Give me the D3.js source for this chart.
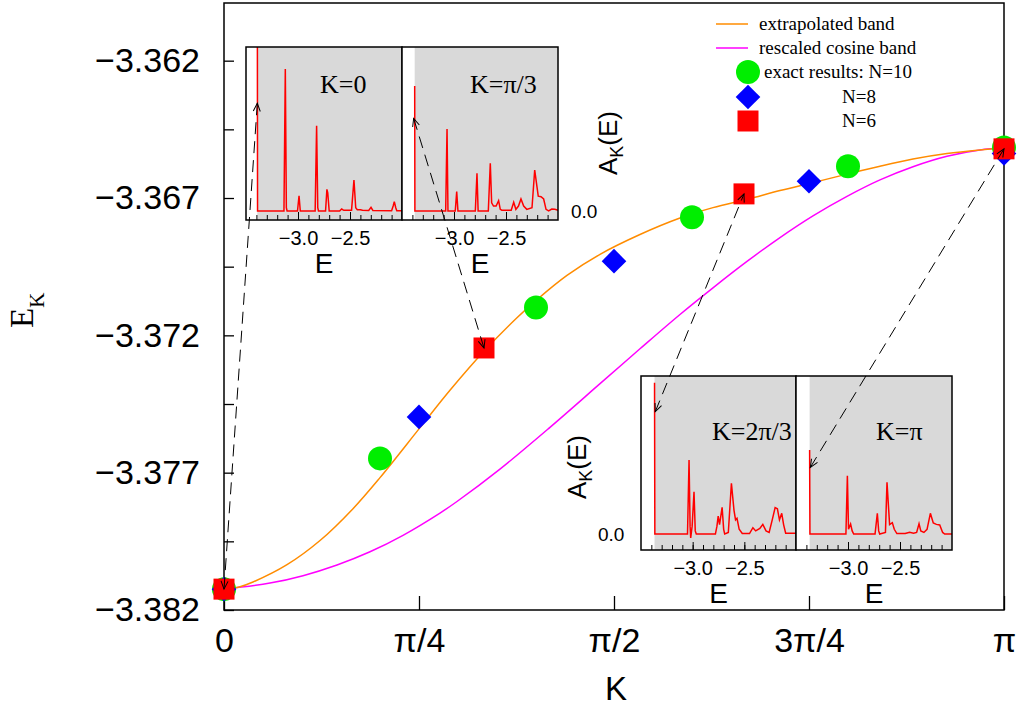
<!DOCTYPE html>
<html>
<head>
<meta charset="utf-8">
<script src="https://cdn.jsdelivr.net/npm/d3@7"></script>
<style>
body { margin: 0; background: #fff; }
text { font-family: "Liberation Sans", Arial, sans-serif; fill: #000; }
.serif { font-family: "Liberation Serif", "Times New Roman", serif; }
</style>
</head>
<body>
<div id="chart"></div>
<script>
var w = 1019, h = 706;

// K is in units of pi
var kTicks = [0, 0.25, 0.5, 0.75, 1];
var kTickLabels = ["0", "π/4", "π/2", "3π/4", "π"];
var eTicks = [-3.382, -3.377, -3.372, -3.367, -3.362];
var eMinorTicks = [-3.3795, -3.3745, -3.3695, -3.3645];

// extrapolated band
var extrapK = [0, 0.0205, 0.0372, 0.0808, 0.1231, 0.1654, 0.2, 0.2513, 0.2897, 0.3333, 0.3756, 0.4013,
    0.4397, 0.4821, 0.5333, 0.5846, 0.6269, 0.6705, 0.7128, 0.7551, 0.7987, 0.841, 0.8833, 0.9269, 0.9692, 1];
var extrapE = [-3.38124, -3.38115, -3.38098, -3.38035, -3.37947, -3.37831, -3.37718, -3.37536, -3.374,
    -3.37258, -3.37136, -3.3707, -3.36982, -3.36905, -3.36833, -3.36773, -3.36735, -3.36705, -3.36673,
    -3.36644, -3.36613, -3.36584, -3.36558, -3.36538, -3.36525, -3.36518];

// rescaled cosine band
var cosK = [0, 0.059, 0.1013, 0.1449, 0.1872, 0.2295, 0.2769, 0.2987, 0.3538, 0.4179, 0.4821, 0.5333,
    0.5846, 0.6269, 0.6705, 0.7128, 0.7551, 0.7987, 0.841, 0.8833, 0.9269, 0.9692, 1];
var cosE = [-3.38124, -3.38102, -3.38075, -3.38036, -3.37988, -3.37928, -3.37847, -3.37805, -3.37687,
    -3.37535, -3.37376, -3.37249, -3.37124, -3.37027, -3.36931, -3.36844, -3.36765, -3.36694,
    -3.36634, -3.36586, -3.36548, -3.36525, -3.36518];

// exact results
var n10K = [0, 0.2, 0.4, 0.6, 0.8, 1];
var n10E = [-3.38124, -3.37648, -3.37099, -3.3677, -3.36584, -3.36516];
var n8K = [0, 0.25, 0.5, 0.75, 1];
var n8E = [-3.38124, -3.37497, -3.3693, -3.36639, -3.36538];
var n6K = [0, 1 / 3, 2 / 3, 1];
var n6E = [-3.38124, -3.37246, -3.36685, -3.36521];

// spectral functions A_K(E), [E, A]
var specK0 = [[-3.391, 1.3], [-3.389, 0], [-3.135, 0], [-3.122, 0.866], [-3.112, 0.02], [-3.105, 0],
    [-3.005, 0], [-2.99, 0.093], [-2.978, 0], [-2.835, 0], [-2.821, 0.52], [-2.81, 0.02], [-2.803, 0],
    [-2.735, 0], [-2.722, 0.132], [-2.714, 0.11], [-2.7, 0], [-2.6, 0], [-2.58, 0.012], [-2.56, 0.004],
    [-2.485, 0.005], [-2.462, 0.189], [-2.445, 0.02], [-2.43, 0.008], [-2.4, 0.008], [-2.38, 0.004],
    [-2.32, 0.003], [-2.298, 0.022], [-2.28, 0.003], [-2.1, 0.002], [-2.085, 0.03], [-2.074, 0.057],
    [-2.06, 0.02], [-2.05, 0.002], [-2.0, 0.002]];
var specK1 = [[-3.378, 0.762], [-3.376, 0], [-3.08, 0], [-3.067, 0.5], [-3.058, 0], [-2.988, 0],
    [-2.974, 0.118], [-2.962, 0], [-2.795, 0], [-2.779, 0.23], [-2.768, 0], [-2.67, 0], [-2.651, 0.291],
    [-2.638, 0.05], [-2.62, 0.03], [-2.595, 0.03], [-2.571, 0.063], [-2.555, 0.01], [-2.54, 0.005],
    [-2.45, 0.005], [-2.426, 0.053], [-2.405, 0.01], [-2.38, 0.03], [-2.356, 0.073], [-2.33, 0.03],
    [-2.3, 0.01], [-2.25, 0.02], [-2.224, 0.25], [-2.19, 0.09], [-2.163, 0.087], [-2.138, 0.073],
    [-2.115, 0.01], [-2.09, 0], [-2.06, 0.012], [-2.03, 0.01], [-2.0, 0.005]];
var specK2 = [[-3.369, 0.958], [-3.366, 0], [-3.05, 0], [-3.035, 0.468], [-3.025, 0.05], [-3.019, -0.025],
    [-3.005, 0.05], [-2.987, 0.268], [-2.975, 0.02], [-2.965, 0], [-2.78, 0], [-2.765, 0.05],
    [-2.753, 0.114], [-2.74, 0.06], [-2.715, 0.169], [-2.7, 0.03], [-2.69, 0], [-2.655, 0.01],
    [-2.625, 0.321], [-2.6, 0.15], [-2.585, 0.09], [-2.571, 0.1], [-2.55, 0.03], [-2.52, 0.003],
    [-2.45, 0.003], [-2.417, 0.04], [-2.39, 0.02], [-2.35, 0.035], [-2.321, 0.061], [-2.29, 0.02],
    [-2.26, 0.01], [-2.23, 0.09], [-2.202, 0.167], [-2.18, 0.16], [-2.16, 0.09], [-2.138, 0.131],
    [-2.12, 0.06], [-2.1, 0.005], [-2.0, 0.005]];
var specK3 = [[-3.369, 0.532], [-3.366, 0], [-3.02, 0], [-3.006, 0.369], [-2.995, 0.03], [-2.975, 0.063],
    [-2.96, 0.02], [-2.945, 0], [-2.74, 0], [-2.718, 0.131], [-2.705, 0.02], [-2.695, 0], [-2.64, 0.01],
    [-2.625, 0.327], [-2.6, 0.06], [-2.574, 0.072], [-2.555, 0.03], [-2.53, 0.003], [-2.45, 0.003],
    [-2.407, 0.011], [-2.37, 0.005], [-2.34, 0.01], [-2.317, 0.065], [-2.3, 0.02], [-2.27, 0.01],
    [-2.24, 0.03], [-2.208, 0.131], [-2.18, 0.07], [-2.15, 0.061], [-2.118, 0.057], [-2.09, 0.01],
    [-2.07, 0], [-2.0, 0]];
var insetLabels = ["K=0", "K=π/3", "K=2π/3", "K=π"];
var eInsetTicks = [-3.4, -3.3, -3.2, -3.1, -3.0, -2.9, -2.8, -2.7, -2.6, -2.5, -2.4, -2.3, -2.2, -2.1];
var eInsetMajor = [-3.0, -2.5];

var svg = d3.select("#chart").append("svg")
    .attr("width", w)
    .attr("height", h)

var x = d3.scaleLinear().domain([0, 1]).range([224, 1004]);
var y = d3.scaleLinear().domain([-3.382, -3.3599]).range([610, 3]);

var defs = svg.append("defs");
defs.append("marker")
    .attr("id", "head")
    .attr("viewBox", "-10 -5 12 10")
    .attr("refX", 0).attr("refY", 0)
    .attr("markerWidth", 12).attr("markerHeight", 10)
    .attr("markerUnits", "userSpaceOnUse")
    .attr("orient", "auto-start-reverse")
  .append("path")
    .attr("d", "M-8,-3.5L0,0L-8,3.5")
    .attr("fill", "none")
    .attr("stroke", "#000")
    .attr("stroke-width", 1);

// axes
var yAxis = svg.append("g")
    .attr("transform", "translate(224,0)")
    .call(d3.axisLeft(y).tickValues(eTicks).tickSize(-10).tickPadding(24).tickFormat(d3.format(".3f")));
yAxis.selectAll("text").style("font-size", "34px");
svg.append("g")
    .attr("transform", "translate(224,0)")
    .call(d3.axisLeft(y).tickValues(eMinorTicks).tickSize(-10).tickFormat(""));

var xAxis = svg.append("g")
    .attr("transform", "translate(0,610)")
    .call(d3.axisBottom(x).tickValues(kTicks).tickSize(-14).tickPadding(18)
        .tickFormat(function(d, i){ return kTickLabels[i]; }));
xAxis.selectAll("text").style("font-size", "34px");

svg.selectAll(".domain").remove();
svg.selectAll(".tick line").attr("stroke", "#000").attr("stroke-width", 1.3);

svg.append("rect")
    .attr("x", 224).attr("y", 3)
    .attr("width", 780).attr("height", 607)
    .attr("fill", "none")
    .attr("stroke", "#000")
    .attr("stroke-width", 1.5);

svg.append("text")
    .attr("x", 616).attr("y", 700)
    .attr("text-anchor", "middle")
    .style("font-size", "33px")
    .text("K");

var ek = svg.append("text")
    .attr("class", "serif")
    .attr("transform", "translate(33,328) rotate(-90)")
    .style("font-size", "33px");
ek.append("tspan").text("E");
ek.append("tspan").attr("dy", 11).style("font-size", "21px").text("K");

// bands
var line = d3.line()
    .x(function(d){ return x(d[0]); })
    .y(function(d){ return y(d[1]); })
    .curve(d3.curveCatmullRom.alpha(0.5));

svg.append("path")
    .datum(cosK.map(function(k, i){ return [k, cosE[i]]; }))
    .attr("d", line)
    .attr("fill", "none")
    .attr("stroke", "#ff00ff")
    .attr("stroke-width", 1.5);

svg.append("path")
    .datum(extrapK.map(function(k, i){ return [k, extrapE[i]]; }))
    .attr("d", line)
    .attr("fill", "none")
    .attr("stroke", "#ff8c00")
    .attr("stroke-width", 1.5);

// markers
var green = "#00ee00", blue = "#0000ff", red = "#ff0000";
var circleSym = d3.symbol(d3.symbolCircle, Math.PI * 12 * 12);
var diamondSym = d3.symbol(d3.symbolSquare, 303);
var squareSym = d3.symbol(d3.symbolSquare, 441);

svg.selectAll(".n10").data(n10K).enter().append("path")
    .attr("class", "n10")
    .attr("d", circleSym)
    .attr("transform", function(d, i){ return "translate(" + x(d) + "," + y(n10E[i]) + ")"; })
    .style("fill", green);

svg.selectAll(".n8").data(n8K).enter().append("path")
    .attr("class", "n8")
    .attr("d", diamondSym)
    .attr("transform", function(d, i){ return "translate(" + x(d) + "," + y(n8E[i]) + ") rotate(45)"; })
    .style("fill", blue);

svg.selectAll(".n6").data(n6K).enter().append("path")
    .attr("class", "n6")
    .attr("d", squareSym)
    .attr("transform", function(d, i){ return "translate(" + x(d) + "," + y(n6E[i]) + ")"; })
    .style("fill", red);

// legend
var lg = svg.append("g");
lg.append("line").attr("x1", 716).attr("x2", 748).attr("y1", 24).attr("y2", 24)
    .attr("stroke", "#ff8c00").attr("stroke-width", 1.5);
lg.append("line").attr("x1", 716).attr("x2", 748).attr("y1", 48).attr("y2", 48)
    .attr("stroke", "#ff00ff").attr("stroke-width", 1.5);
lg.append("path").attr("d", circleSym).attr("transform", "translate(748,72)").style("fill", green);
lg.append("path").attr("d", diamondSym).attr("transform", "translate(748,97) rotate(45)").style("fill", blue);
lg.append("path").attr("d", squareSym).attr("transform", "translate(748,121)").style("fill", red);
var legendText = [[759, 24, "extrapolated band"], [759, 48, "rescaled cosine band"],
    [764, 72, "exact results: N=10"], [842, 97, "N=8"], [842, 121, "N=6"]];
lg.selectAll(".lt").data(legendText).enter().append("text")
    .attr("class", "serif")
    .attr("x", function(d){ return d[0]; })
    .attr("y", function(d){ return d[1]; })
    .attr("dy", "0.33em")
    .style("font-size", "19px")
    .text(function(d){ return d[2]; });

// insets
var panels = [
    {spec: specK0, left: 246, right: 402, top: 47, bottom: 220, aMin: -0.055, lx: 320, ly: 93},
    {spec: specK1, left: 402, right: 558, top: 47, bottom: 220, aMin: -0.055, lx: 470, ly: 93},
    {spec: specK2, left: 641, right: 796, top: 376, bottom: 550, aMin: -0.101, lx: 712, ly: 440},
    {spec: specK3, left: 796, right: 952, top: 376, bottom: 550, aMin: -0.101, lx: 876, ly: 440}
];

panels.forEach(function(p, i) {
    p.xs = d3.scaleLinear().domain([-3.5, -2.0]).range([p.left, p.right]);
    p.ys = d3.scaleLinear().domain([p.aMin, 1]).range([p.bottom, p.top]);
    var g = svg.append("g");

    defs.append("clipPath").attr("id", "clip" + i)
      .append("rect")
        .attr("x", p.left).attr("y", p.top)
        .attr("width", p.right - p.left).attr("height", p.bottom - p.top);

    g.append("rect")
        .attr("x", p.left).attr("y", p.top)
        .attr("width", p.right - p.left).attr("height", p.bottom - p.top)
        .attr("fill", "#fff");
    g.append("rect")
        .attr("x", p.xs(p.spec[0][0])).attr("y", p.top)
        .attr("width", p.right - p.xs(p.spec[0][0])).attr("height", p.bottom - p.top)
        .attr("fill", "#d9d9d9");

    g.append("path")
        .datum(p.spec)
        .attr("clip-path", "url(#clip" + i + ")")
        .attr("d", d3.line()
            .x(function(d){ return p.xs(d[0]); })
            .y(function(d){ return p.ys(d[1]); }))
        .attr("fill", "none")
        .attr("stroke", red)
        .attr("stroke-width", 1.5);

    g.append("g")
        .attr("transform", "translate(0," + p.bottom + ")")
        .call(d3.axisBottom(p.xs).tickValues(eInsetTicks).tickSize(-5).tickFormat(""));
    var ax2 = g.append("g")
        .attr("transform", "translate(0," + p.bottom + ")")
        .call(d3.axisBottom(p.xs).tickValues(eInsetMajor).tickSize(-8).tickPadding(11)
            .tickFormat(d3.format(".1f")));
    ax2.selectAll("text").style("font-size", "20px");
    g.selectAll(".domain").remove();
    g.selectAll(".tick line").attr("stroke", "#000").attr("stroke-width", 1);

    g.append("rect")
        .attr("x", p.left).attr("y", p.top)
        .attr("width", p.right - p.left).attr("height", p.bottom - p.top)
        .attr("fill", "none")
        .attr("stroke", "#000")
        .attr("stroke-width", 1.5);

    g.append("text")
        .attr("class", "serif")
        .attr("x", p.lx).attr("y", p.ly)
        .style("font-size", "26px")
        .text(insetLabels[i]);

    g.append("text")
        .attr("x", (p.left + p.right) / 2).attr("y", p.bottom + 53)
        .attr("text-anchor", "middle")
        .style("font-size", "28px")
        .text("E");
});

// inset y labels
function akLabel(bx, cy) {
    var t = svg.append("text")
        .attr("transform", "translate(" + bx + "," + cy + ") rotate(-90)")
        .attr("text-anchor", "middle")
        .style("font-size", "26px");
    t.append("tspan").text("A");
    t.append("tspan").attr("dy", 6).style("font-size", "18px").text("K");
    t.append("tspan").attr("dy", -6).text("(E)");
}
akLabel(617, 143);
akLabel(586, 467);

svg.append("text").attr("x", 571).attr("y", panels[0].ys(0)).attr("dy", "0.35em")
    .style("font-size", "19px").text("0.0");
svg.append("text").attr("x", 598).attr("y", panels[2].ys(0)).attr("dy", "0.35em")
    .style("font-size", "19px").text("0.0");

// arrows linking the inset peaks to the band points
var arrows = [
    {k: 0, e: -3.38124, panel: 0, pe: -3.391, pa: 0.657},
    {k: 1 / 3, e: -3.37246, panel: 1, pe: -3.388, pa: 0.565},
    {k: 2 / 3, e: -3.36685, panel: 2, pe: -3.362, pa: 0.774},
    {k: 1, e: -3.36521, panel: 3, pe: -3.362, pa: 0.422}
];
svg.selectAll(".arrow").data(arrows).enter().append("line")
    .attr("class", "arrow")
    .attr("x1", function(d){ return panels[d.panel].xs(d.pe); })
    .attr("y1", function(d){ return panels[d.panel].ys(d.pa); })
    .attr("x2", function(d){ return x(d.k); })
    .attr("y2", function(d){ return y(d.e); })
    .attr("stroke", "#000")
    .attr("stroke-width", 1)
    .attr("stroke-dasharray", "12,7")
    .attr("marker-start", "url(#head)")
    .attr("marker-end", "url(#head)");
</script>
</body>
</html>
